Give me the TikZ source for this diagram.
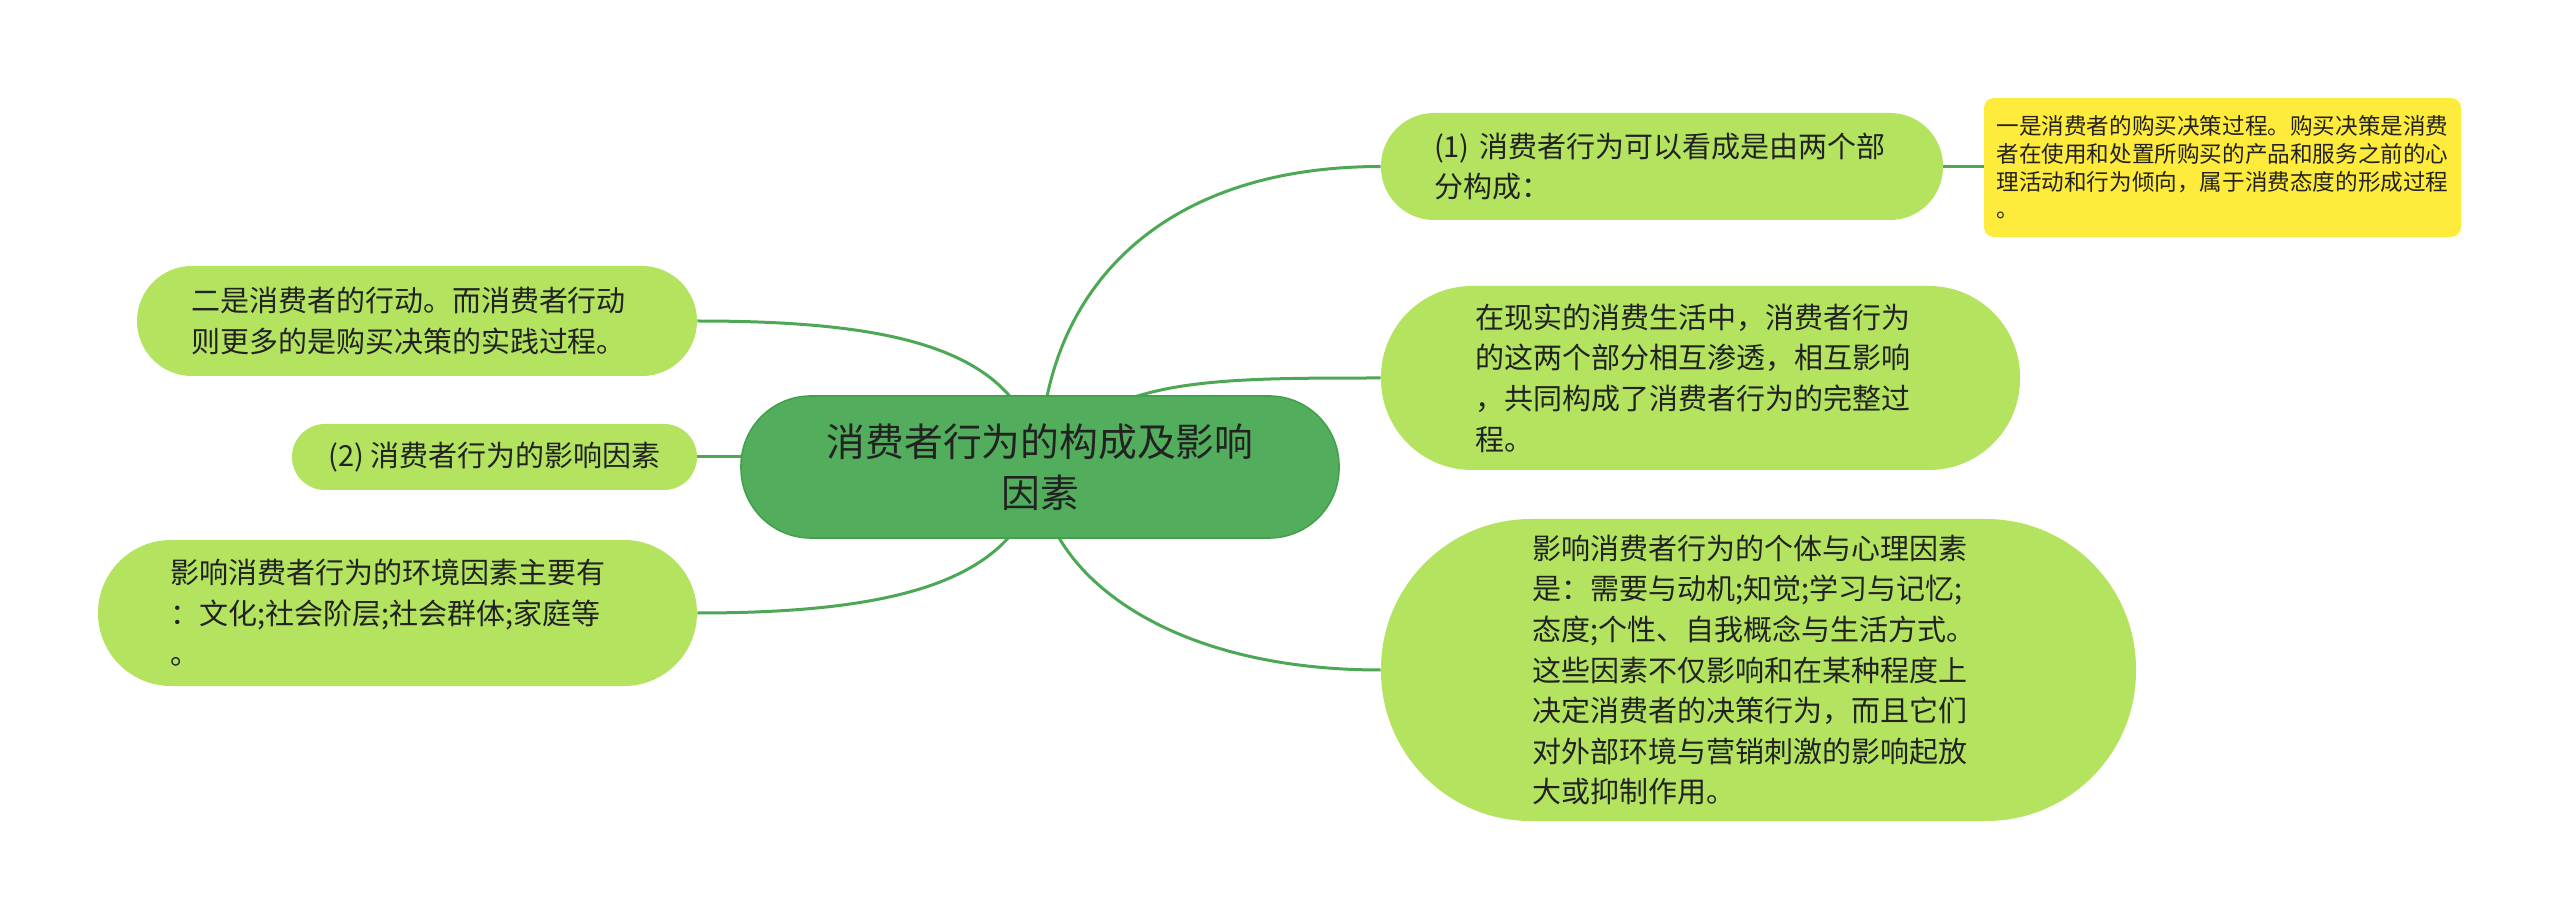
\documentclass[tikz,border=0pt]{standalone}
\usepackage{fontspec}
\setmainfont{Noto Sans CJK SC}
\usetikzlibrary{backgrounds}
\definecolor{leaf}{HTML}{B3E35F}
\definecolor{rootfill}{HTML}{52AE5C}
\definecolor{rootdraw}{HTML}{43A04E}
\definecolor{edge}{HTML}{4CA855}
\definecolor{note}{HTML}{FFEB3B}
\definecolor{txt}{HTML}{222222}
\begin{document}
\begin{tikzpicture}[x=0.5pt,y=-0.5pt,
  leafbox/.style={fill=leaf, draw=none, inner sep=0pt, text=txt, align=left,
    font=\fontsize{14.5pt}{20.3pt}\selectfont},
  rootbox/.style={fill=rootfill, draw=rootdraw, line width=0.8pt, inner sep=0pt, text=txt, align=center,
    font=\fontsize{19.4pt}{25.5pt}\selectfont},
  notebox/.style={fill=note, draw=none, inner sep=0pt, text=txt, align=left, rounded corners=5pt,
    font=\fontsize{11.3pt}{13.8pt}\selectfont},
  link/.style={draw=edge, line width=1.5pt}
]
\useasboundingbox (0,0) rectangle (2560,919);

\node[rootbox, minimum width=299pt, minimum height=71pt, rounded corners=35pt] (c) at (1040,467)
  {消费者行为的构成及影响\\因素};

\node[leafbox, minimum width=281pt, minimum height=53.5pt, rounded corners=26.5pt, text width=228pt] (n1) at (1662,166.5)
  {(1) 消费者行为可以看成是由两个部\\分构成：};

\node[notebox, minimum width=238.5pt, minimum height=69.5pt, text width=226pt] (y1) at (2222.5,167.5)
  {一是消费者的购买决策过程。购买决策是消费\\者在使用和处置所购买的产品和服务之前的心\\理活动和行为倾向，属于消费态度的形成过程\\。};

\node[leafbox, minimum width=319.5pt, minimum height=92pt, rounded corners=45.5pt, text width=225.5pt] (n2) at (1700.5,378)
  {在现实的消费生活中，消费者行为\\的这两个部分相互渗透，相互影响\\，共同构成了消费者行为的完整过\\程。};

\node[leafbox, minimum width=377.5pt, minimum height=151pt, rounded corners=75pt, text width=226.5pt] (n3) at (1758.5,670)
  {影响消费者行为的个体与心理因素\\是：需要与动机;知觉;学习与记忆;\\态度;个性、自我概念与生活方式。\\这些因素不仅影响和在某种程度上\\决定消费者的决策行为，而且它们\\对外部环境与营销刺激的影响起放\\大或抑制作用。};

\node[leafbox, minimum width=280pt, minimum height=55pt, rounded corners=27.5pt, text width=226pt] (m1) at (417,321)
  {二是消费者的行动。而消费者行动\\则更多的是购买决策的实践过程。};

\node[leafbox, minimum width=202.5pt, minimum height=33pt, rounded corners=16.5pt] (m2) at (494.5,457)
  {(2) 消费者行为的影响因素};

\node[leafbox, minimum width=299.5pt, minimum height=73pt, rounded corners=36.5pt, text width=227.5pt] (m3) at (397.5,613)
  {影响消费者行为的环境因素主要有\\：文化;社会阶层;社会群体;家庭等\\。};

\begin{scope}[on background layer]
  \fill[white] (0,0) rectangle (2560,919);
  \draw[link] (c.center) .. controls (1040,300) and (1150,166.5) .. (n1.west);
  \draw[link] (c.center) .. controls (1100,378) and (1200,378) .. (n2.west);
  \draw[link] (c.center) .. controls (1036,560) and (1150,670) .. (n3.west);
  \draw[link] (c.center) .. controls (1025,350) and (900,321) .. (m1.east);
  \draw[link] (c.center) .. controls (1025,580) and (900,613) .. (m3.east);
  \draw[link] (m2.east) -- (m2.east -| c.center);
  \draw[link] (n1.east) -- (n1.east -| y1.west);
\end{scope}
\end{tikzpicture}
\end{document}
